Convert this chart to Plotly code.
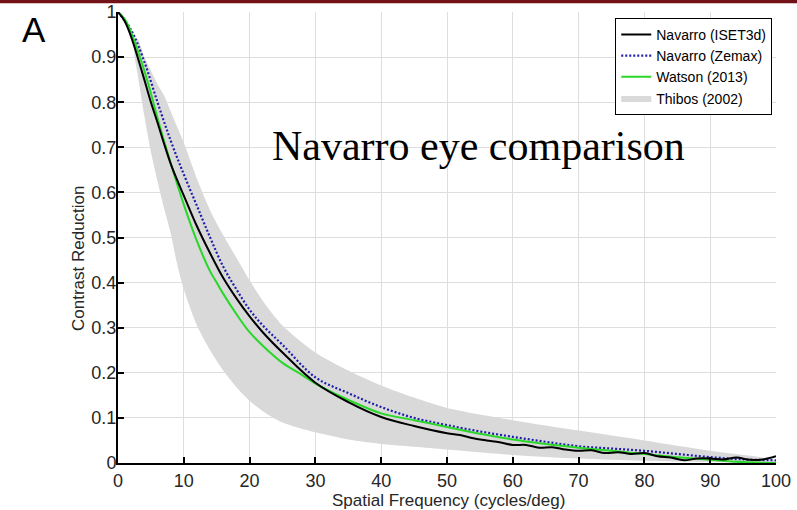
## contrast reduction vs spatial frequency, Navarro eye comparison

import plotly.graph_objects as go

# Navarro (ISET3d) - black solid
iset_f = [0, 1, 2, 4, 5, 6, 7, 8, 9, 10, 12, 14, 16, 18, 20, 22, 25, 30, 35, 40, 45, 50,
          52, 54, 56, 58, 60, 62, 64, 66, 68, 70, 72, 74, 76, 78, 80, 82, 84, 86,
          88, 90, 92, 94, 96, 98, 100]
iset_v = [1.0, 0.98, 0.945, 0.85, 0.80, 0.755, 0.708, 0.664, 0.627, 0.593, 0.525, 0.465,
          0.41, 0.365, 0.325, 0.29, 0.245, 0.178, 0.135, 0.102, 0.082, 0.066,
          0.062, 0.055, 0.05, 0.046, 0.04, 0.04, 0.034, 0.035, 0.03, 0.027, 0.028,
          0.022, 0.024, 0.02, 0.022, 0.015, 0.012, 0.006, 0.01, 0.01, 0.008, 0.012,
          0.007, 0.008, 0.015]

# Navarro (Zemax) - blue dotted
zemax_f = [0, 2, 4, 6, 8, 10, 12, 14, 16, 18, 20, 22, 25, 30, 35, 40, 45, 50, 55,
           60, 65, 70, 75, 80, 85, 90, 95, 100]
zemax_v = [1.0, 0.96, 0.89, 0.8, 0.715, 0.64, 0.57, 0.5, 0.435, 0.385, 0.34, 0.305,
           0.262, 0.19, 0.155, 0.124, 0.1, 0.084, 0.07, 0.058, 0.047, 0.037, 0.032,
           0.027, 0.02, 0.013, 0.008, 0.006]

# Watson (2013) - green
watson_f = [0, 1, 2, 4, 5, 6, 8, 10, 12, 14, 15, 16, 18, 20, 22, 25, 28, 30, 35, 40,
            45, 50, 55, 60, 65, 70, 75, 80, 85, 90, 95, 100]
watson_v = [1.0, 0.985, 0.955, 0.87, 0.82, 0.765, 0.665, 0.573, 0.492, 0.425, 0.4, 0.375,
            0.33, 0.29, 0.26, 0.222, 0.195, 0.176, 0.14, 0.11, 0.095, 0.08, 0.065,
            0.052, 0.042, 0.034, 0.027, 0.02, 0.013, 0.007, 0.002, 0.0]

# Thibos (2002) - grey band
thibos_f = [2.5, 3, 4, 5, 6, 7, 8, 9, 10, 12, 14, 16, 18, 20, 22, 25, 30, 35, 40, 45,
            50, 60, 70, 80, 90, 100]
thibos_hi = [0.93, 0.94, 0.9, 0.87, 0.84, 0.815, 0.78, 0.745, 0.71, 0.63, 0.56, 0.505,
             0.455, 0.405, 0.36, 0.305, 0.245, 0.205, 0.172, 0.145, 0.122, 0.095, 0.072,
             0.05, 0.027, 0.005]
thibos_lo = [0.9, 0.86, 0.77, 0.69, 0.625, 0.565, 0.51, 0.44, 0.385, 0.305, 0.25, 0.205,
             0.168, 0.138, 0.115, 0.09, 0.068, 0.052, 0.042, 0.036, 0.03, 0.018, 0.01,
             0.005, 0.002, 0.0]

y_ticks = [0, 0.1, 0.2, 0.3, 0.4, 0.5, 0.6, 0.7, 0.8, 0.9, 1]
y_labels = ["0", "0.1", "0.2", "0.3", "0.4", "0.5", "0.6", "0.7", "0.8", "0.9", "1"]
x_ticks = [0, 10, 20, 30, 40, 50, 60, 70, 80, 90, 100]

fig = go.Figure()

# grey band drawn first so the lines sit on top
fig.add_trace(go.Scatter(
    x=thibos_f + thibos_f[::-1],
    y=thibos_hi + thibos_lo[::-1],
    fill="toself", fillcolor="rgb(217,217,217)",
    line=dict(width=0, color="rgb(217,217,217)", shape="spline", smoothing=0.8),
    mode="lines", name="Thibos (2002)", legendrank=4,
))
fig.add_trace(go.Scatter(
    x=zemax_f, y=zemax_v, mode="lines", name="Navarro (Zemax)", legendrank=2,
    line=dict(color="rgb(30,30,170)", width=2.2, dash="2px,2px", shape="spline"),
))
fig.add_trace(go.Scatter(
    x=watson_f, y=watson_v, mode="lines", name="Watson (2013)", legendrank=3,
    line=dict(color="rgb(40,215,40)", width=2, shape="spline"),
))
fig.add_trace(go.Scatter(
    x=iset_f, y=iset_v, mode="lines", name="Navarro (ISET3d)", legendrank=1,
    line=dict(color="black", width=2, shape="spline"),
))

sans = "Liberation Sans, Arial, sans-serif"

fig.update_layout(
    width=797, height=510,
    margin=dict(l=118, r=21, t=12, b=47, autoexpand=False),
    paper_bgcolor="white", plot_bgcolor="white",
    font=dict(family=sans, size=18, color="#262626"),
    showlegend=True,
    legend=dict(
        x=0.875, y=0.987, xanchor="center", yanchor="top",
        bordercolor="black", borderwidth=1, bgcolor="white",
        font=dict(family=sans, size=14, color="black"),
        tracegroupgap=0, itemwidth=30,
    ),
    annotations=[
        dict(text="Navarro eye comparison", x=54.8, y=0.704, xref="x", yref="y",
             xanchor="center", yanchor="middle", showarrow=False,
             font=dict(family="Liberation Serif, serif", size=42, color="black")),
        dict(text="A", x=-0.1284, y=0.962, xref="paper", yref="paper",
             xanchor="center", yanchor="middle", showarrow=False,
             font=dict(family=sans, size=35, color="black")),
        dict(text="Contrast Reduction", x=-0.0608, y=0.4545, xref="paper", yref="paper",
             xanchor="center", yanchor="middle", textangle=-90, showarrow=False,
             font=dict(family=sans, size=17, color="#262626")),
        dict(text="Spatial Frequency (cycles/deg)", x=0.503, y=-0.083, xref="paper",
             yref="paper", xanchor="center", yanchor="middle", showarrow=False,
             font=dict(family=sans, size=17, color="#262626")),
    ],
    shapes=[
        dict(type="rect", xref="paper", yref="paper", x0=-0.2, x1=1.1, y0=1.0195, y1=1.04,
             fillcolor="rgb(115,18,22)", line=dict(width=0), layer="above"),
    ],
)

fig.update_xaxes(
    range=[0, 100], tickvals=x_ticks, showgrid=True, gridcolor="rgb(222,222,222)",
    showline=True, linecolor="black", linewidth=2, ticks="inside", ticklen=6,
    tickcolor="black", tickwidth=1.5, zeroline=False, automargin=False,
)
fig.update_yaxes(
    range=[0, 1], tickvals=y_ticks, ticktext=y_labels, showgrid=True,
    gridcolor="rgb(222,222,222)", showline=True, linecolor="black", linewidth=2,
    ticks="inside", ticklen=6, tickcolor="black", tickwidth=1.5, zeroline=False,
    automargin=False, ticklabelstandoff=-4,
)

# drop the browser's default body margin so the figure sits at the page corner
fig.write_html("out.html", config={"displayModeBar": False},
               post_script="document.body.style.margin='0';")
